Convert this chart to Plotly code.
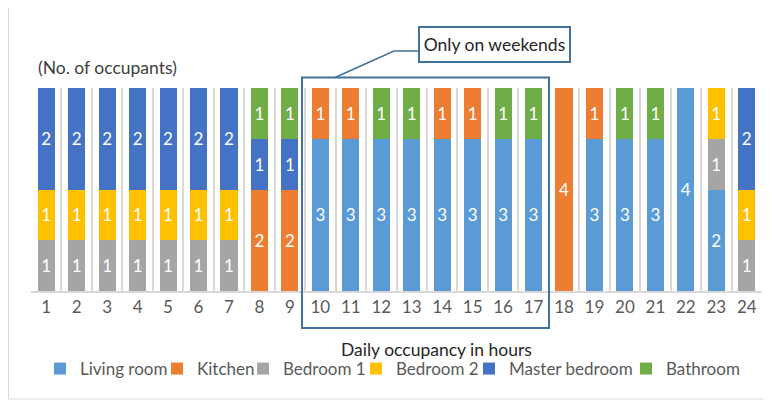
import plotly.graph_objects as go

hours = list(range(1, 25))
tick_labels = [str(h) for h in hours]

living_room    = [None]*9 + [3, 3, 3, 3, 3, 3, 3, 3] + [None, 3, 3, 3, 4, 2, None]
kitchen        = [None]*7 + [2, 2, 1, 1, None, None, 1, 1, None, None, 4, 1, None, None, None, None, None]
bedroom_1      = [1]*7 + [None]*15 + [1, 1]
bedroom_2      = [1]*7 + [None]*15 + [1, 1]
master_bedroom = [2]*7 + [1, 1] + [None]*14 + [2]
bathroom       = [None]*7 + [1, 1, None, None, 1, 1, None, None, 1, 1, None, None, 1, 1, None, None, None]

series = [
    ("Living room", living_room, "#5B9BD5"),
    ("Kitchen", kitchen, "#ED7D31"),
    ("Bedroom 1", bedroom_1, "#A5A5A5"),
    ("Bedroom 2", bedroom_2, "#FFC000"),
    ("Master bedroom", master_bedroom, "#4472C4"),
    ("Bathroom", bathroom, "#70AD47"),
]
# left edge (page px) of each legend label text in the reference layout
legend_text_x = [76, 193, 279, 392, 505, 662]

FONT = "Lato"
FS = 17

# page body has an 8px default margin; work in page pixels and convert
OFF = 8
W, H = 772 - OFF, 401 - OFF
L, R, T, B = 31, 762, 88, 291          # plot area in page pixels
def px_x(p):
    return (p - L) / (R - L)
def px_y(p):
    return (B - p) / (B - T)

fig = go.Figure()
legend_layouts = {}
for i, (name, vals, col) in enumerate(series):
    lg = "legend" if i == 0 else f"legend{i+1}"
    fig.add_trace(go.Bar(
        x=hours, y=vals, name=name, marker_color=col, marker_line_width=0,
        text=[("" if v is None else str(v)) for v in vals],
        textposition="inside", insidetextanchor="middle",
        textfont=dict(color="white", size=FS, family=FONT),
        textangle=0, legend=lg,
    ))
    legend_layouts[lg] = dict(
        orientation="h", x=px_x(legend_text_x[i] - 36), xanchor="left",
        y=px_y(369), yanchor="middle", bgcolor="rgba(0,0,0,0)", borderwidth=0,
        font=dict(size=FS, color="#595959", family=FONT), itemwidth=30,
    )

edge = "#41719C"
shapes = [
    dict(type="rect", xref="paper", yref="paper", x0=px_x(8.5), x1=px_x(767), y0=px_y(399), y1=px_y(7),
         line=dict(color="#D9D9D9", width=1), fillcolor="rgba(0,0,0,0)", layer="below"),
    dict(type="rect", xref="paper", yref="paper", x0=px_x(302), x1=px_x(549), y0=px_y(328), y1=px_y(77.5),
         line=dict(color=edge, width=2), fillcolor="rgba(0,0,0,0)"),
    dict(type="path", xref="paper", yref="paper",
         path=f"M {px_x(335)} {px_y(77.5)} L {px_x(394)} {px_y(51)} L {px_x(418)} {px_y(51)}",
         line=dict(color=edge, width=1.5)),
]

annotations = [
    dict(text="(No. of occupants)", xref="paper", yref="paper", x=px_x(36), y=px_y(68),
         xanchor="left", yanchor="middle", showarrow=False,
         font=dict(size=FS + 0.5, color="#404040", family=FONT)),
    dict(text="Only on weekends", xref="paper", yref="paper", x=px_x(494.5), y=px_y(45),
         xanchor="center", yanchor="middle", showarrow=False,
         width=147, height=31, borderpad=1, bordercolor=edge, borderwidth=2, bgcolor="white",
         font=dict(size=FS + 0.5, color="#262626", family=FONT)),
    dict(text="Daily occupancy in hours", xref="paper", yref="paper", x=px_x(436.5), y=px_y(349),
         xanchor="center", yanchor="middle", showarrow=False,
         font=dict(size=FS + 0.5, color="#262626", family=FONT)),
]

fig.update_layout(
    width=W, height=H,
    margin=dict(l=L - OFF, r=W - (R - OFF), t=T - OFF, b=H - (B - OFF), pad=0, autoexpand=False),
    paper_bgcolor="white", plot_bgcolor="white",
    barmode="stack", bargap=0.44,
    font=dict(family=FONT, size=FS, color="#595959"),
    shapes=shapes, annotations=annotations,
    showlegend=True,
    **legend_layouts,
)
fig.update_xaxes(
    type="linear", range=[0.5, 24.5], tickmode="array", tickvals=hours, ticktext=tick_labels,
    showgrid=False, zeroline=False, showline=True, linecolor="#D9D9D9", linewidth=1.5,
    ticks="", tickfont=dict(size=FS, color="#595959", family=FONT), automargin=False,
    minor=dict(tick0=0.5, dtick=1, showgrid=True, gridcolor="#D9D9D9", gridwidth=1.5),
)
fig.update_yaxes(range=[0, 4], showgrid=False, zeroline=False, showticklabels=False,
                 showline=False, automargin=False)

fig.write_html("out.html")
